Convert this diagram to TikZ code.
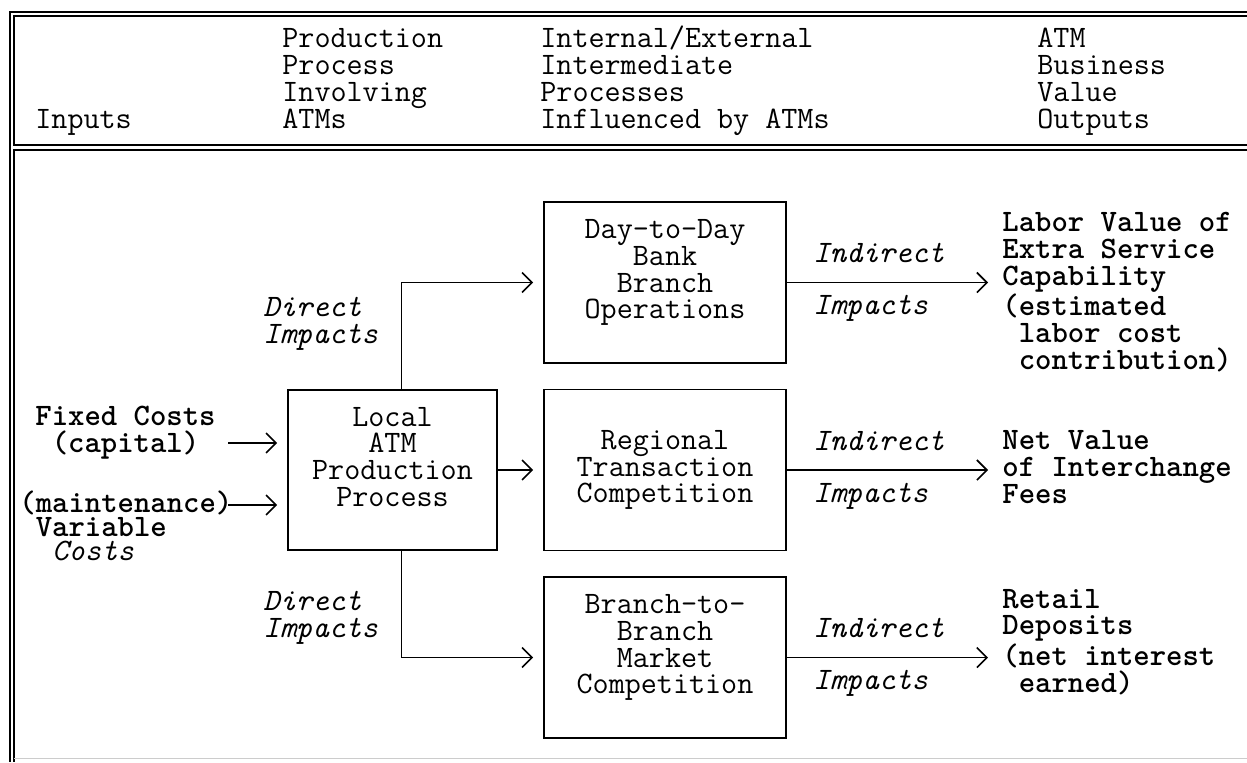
\documentclass[tikz,border=0pt]{standalone}
\usetikzlibrary{arrows.meta}

% typewriter face of the figure
\newcommand\tw{\ttfamily\fontsize{15.6}{13.35}\selectfont}

\tikzset{
  box/.style={draw, line width=0.8pt, align=center, inner sep=0pt, font=\tw,
    minimum width=121pt, minimum height=80.5pt},
  txt/.style={anchor=base west, align=left, inner sep=0pt, font=\tw},
  bold/.style={txt, font=\tw\bfseries},
  imp/.style={txt, font=\tw\itshape},
  flow/.style={line width=0.8pt, -{Straight Barb[length=5pt,width=10pt]}, shorten >=5pt},
  frame/.style={line width=0.8pt},
}

\begin{document}
\begin{tikzpicture}[x=0.5pt,y=-0.5pt]
    \useasboundingbox (0,0) rectangle (1247,762);

    % Frame with header rule
    \draw[frame] (1247,12) -- (10,12) -- (10,762);
    \draw[frame] (1247,16) -- (14,16) -- (14,145) -- (1247,145);
    \draw[frame] (1247,150) -- (14,150) -- (14,762);
    \draw[gray!40, line width=0.5pt] (14,758) -- (1247,758);

    % Column headings (placed at the baseline of their last line)
    \node[txt] (hinputs) at (35,128) {Inputs};
    \node[txt] (hprod) at (282,128) {Production\\Process\\Involving\\ATMs};
    \node[txt] (hinter) at (540,128) {Internal/External\\Intermediate\\Processes\\Influenced by ATMs};
    \node[txt] (hout) at (1037,128) {ATM\\Business\\Value\\Outputs};

    % Boxes
    \node[box, minimum width=104.5pt, minimum height=80pt] (local) at (392.5,470)
        {Local\\ATM\\Production\\Process\\\mbox{}};
    \node[box] (day) at (665,282.5) {Day-to-Day\\Bank\\Branch\\Operations\\\mbox{}};
    \node[box] (regional) at (665,470) {Regional\\Transaction\\Competition};
    \node[box] (branch) at (665,657.5) {Branch-to-\\Branch\\Market\\Competition\\\mbox{}};

    % Inputs
    \node[bold] (fixed) at (35,452) {Fixed Costs\\~(capital)};
    \node[bold, font=\ttfamily\bfseries\fontsize{15.6}{11.8}\selectfont] (maint) at (19,560)
        {(maintenance)\\~Variable\\~~\textmd{\itshape Costs}};
    \coordinate (fixedin) at (228,443);
    \coordinate (maintin) at (228,505);
    \draw[flow] (fixedin) -- (fixedin -| local.west);
    \draw[flow] (maintin) -- (maintin -| local.west);

    % Outputs
    \node[bold] (labor) at (1002,369)
        {Labor Value of\\Extra Service\\Capability\\(estimated\\~labor cost\\~contribution)};
    \node[bold] (fees) at (1002,503) {Net Value\\of Interchange\\Fees};
    \node[bold] (retail) at (1002,692) {Retail\\Deposits\\(net interest\\~earned)};

    % Direct impacts
    \draw[flow] ([xshift=4.5pt]local.north) |- (day);
    \draw[flow] (local) -- (regional);
    \draw[flow] ([xshift=4.5pt]local.south) |- (branch);
    \node[imp] (dtop) at (263,343) {Direct\\Impacts};
    \node[imp] (dbot) at (263,637) {Direct\\Impacts};

    % Indirect impacts
    \draw[flow, shorten >=7pt] (day.east) -- (day.east -| labor.west);
    \draw[flow, shorten >=7pt] (regional.east) -- (regional.east -| fees.west);
    \draw[flow, shorten >=7pt] (branch.east) -- (branch.east -| retail.west);
    \node[imp] (ind1) at (813,262) {Indirect};
    \node[imp] (imp1) at (813,314) {Impacts};
    \node[imp] (ind2) at (813,450) {Indirect};
    \node[imp] (imp2) at (813,502) {Impacts};
    \node[imp] (ind3) at (813,637) {Indirect};
    \node[imp] (imp3) at (813,689) {Impacts};
\end{tikzpicture}
\end{document}
